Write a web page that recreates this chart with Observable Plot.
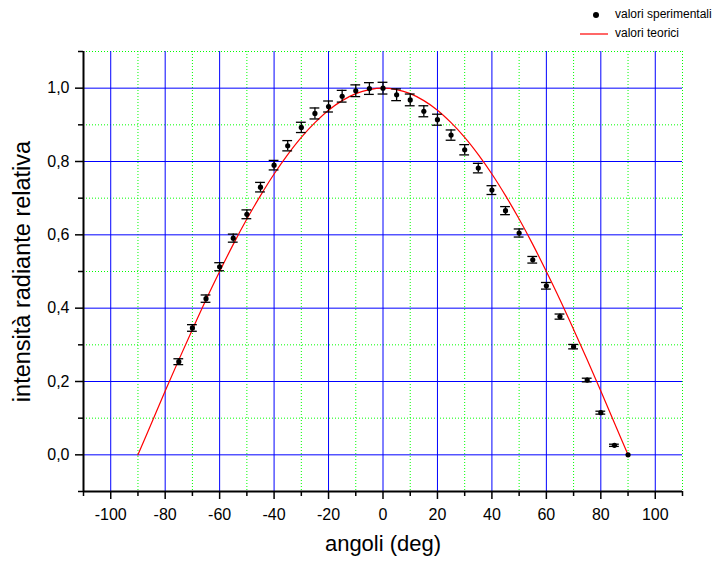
<!DOCTYPE html>
<html>
<head>
<meta charset="utf-8">
<script src="https://cdn.jsdelivr.net/npm/d3@7"></script>
<script src="https://cdn.jsdelivr.net/npm/@observablehq/plot@0.6"></script>
<style>
  html, body { margin: 0; padding: 0; background: #fff; }
  #wrap { position: relative; width: 719px; height: 561px; font-family: "Liberation Sans", Arial, sans-serif; }
  #legend { position: absolute; left: 578px; top: 5px; font-size: 12px; color: #000; line-height: 19px; }
  #legend .row { display: flex; align-items: center; height: 19px; }
  #legend svg { margin-right: 5px; }
</style>
</head>
<body>
<div id="wrap">
  <div id="legend">
    <div class="row"><svg width="32" height="10"><circle cx="18" cy="5" r="3" fill="#000"/></svg><span>valori sperimentali</span></div>
    <div class="row"><svg width="32" height="10"><line x1="2" y1="5" x2="30" y2="5" stroke="#ff0000" stroke-width="1.2"/></svg><span>valori teorici</span></div>
  </div>
</div>
<script>
// Experimental data (angles in degrees, relative intensity, error)
const angoli = [-75, -70, -65, -60, -55, -50, -45, -40, -35, -30, -25, -20, -15, -10, -5, 0,
                5, 10, 15, 20, 25, 30, 35, 40, 45, 50, 55, 60, 65, 70, 75, 80, 85, 90];
const intensita = [0.254, 0.346, 0.426, 0.513, 0.591, 0.656, 0.730, 0.790, 0.843, 0.893, 0.931, 0.950, 0.978, 0.993, 0.999, 1.000,
                   0.982, 0.968, 0.937, 0.914, 0.872, 0.832, 0.782, 0.722, 0.666, 0.605, 0.532, 0.461, 0.377, 0.295, 0.204, 0.115, 0.026, 0.000];
const errori = [0.008, 0.009, 0.010, 0.011, 0.011, 0.012, 0.013, 0.013, 0.014, 0.014, 0.015, 0.015, 0.016, 0.016, 0.016, 0.016,
                0.016, 0.016, 0.015, 0.015, 0.014, 0.014, 0.013, 0.012, 0.011, 0.011, 0.009, 0.009, 0.007, 0.006, 0.005, 0.004, 0.003, 0.000];

// Theoretical curve values
const angoliTeo = [-90, -85, -80, -75, -70, -65, -60, -55, -50, -45, -40, -35, -30, -25, -20, -15, -10, -5, 0,
                   5, 10, 15, 20, 25, 30, 35, 40, 45, 50, 55, 60, 65, 70, 75, 80, 85, 90];
const valoriTeo = [0.000, 0.087, 0.174, 0.259, 0.342, 0.423, 0.500, 0.574, 0.643, 0.707, 0.766, 0.819, 0.866, 0.906, 0.940, 0.966, 0.985, 0.996, 1.000,
                   0.996, 0.985, 0.966, 0.940, 0.906, 0.866, 0.819, 0.766, 0.707, 0.643, 0.574, 0.500, 0.423, 0.342, 0.259, 0.174, 0.087, 0.000];

// Tick values
const xMajor = [-100, -80, -60, -40, -20, 0, 20, 40, 60, 80, 100];
const xMinor = [-110, -90, -70, -50, -30, -10, 10, 30, 50, 70, 90, 110];
const yMajor = [0, 0.2, 0.4, 0.6, 0.8, 1.0];
const yMinor = [-0.1, 0.1, 0.3, 0.5, 0.7, 0.9, 1.1];

const xLabel = "angoli (deg)";
const yLabel = "intensità radiante relativa";

const sper = angoli.map((a, i) => ({x: a, y: intensita[i], e: errori[i]}));
const teo = angoliTeo.map((a, i) => ({x: a, y: valoriTeo[i]}));

const capHalf = 1.8;
const fmtY = d => d.toFixed(1).replace(".", ",");

const chart = Plot.plot({
  width: 719,
  height: 561,
  marginLeft: 83,
  marginRight: 37,
  marginTop: 51,
  marginBottom: 70,
  style: {fontFamily: "'Liberation Sans', Arial, sans-serif", background: "#fff", overflow: "visible"},
  x: {domain: [-110, 110]},
  y: {domain: [-0.1, 1.1]},
  marks: [
    // minor grid (green dotted)
    Plot.ruleX(xMinor.filter(d => d > -110), {stroke: "#00ff00", strokeWidth: 1, strokeDasharray: "1,2"}),
    Plot.ruleY(yMinor.filter(d => d > -0.1), {stroke: "#00ff00", strokeWidth: 1, strokeDasharray: "1,2"}),
    // major grid (blue)
    Plot.ruleX(xMajor, {stroke: "#0000ff", strokeWidth: 1}),
    Plot.ruleY(yMajor, {stroke: "#0000ff", strokeWidth: 1}),
    // axes
    Plot.axisX({ticks: xMajor, tickSize: 8, tickPadding: 9, tickFormat: d => d, fontSize: 16, stroke: "#000", strokeWidth: 1.5, label: null, color: "#000"}),
    Plot.axisX({ticks: xMinor, tickSize: 5, tickFormat: () => "", stroke: "#000", strokeWidth: 1.5, label: null}),
    Plot.axisY({ticks: yMajor, tickSize: 8, tickPadding: 6, tickFormat: fmtY, fontSize: 16, stroke: "#000", strokeWidth: 1.5, label: null, color: "#000"}),
    Plot.axisY({ticks: yMinor, tickSize: 5, tickFormat: () => "", stroke: "#000", strokeWidth: 1.5, label: null}),
    Plot.ruleY([-0.1], {stroke: "#000", strokeWidth: 2}),
    Plot.ruleX([-110], {stroke: "#000", strokeWidth: 2}),
    // theoretical curve
    Plot.line(teo, {x: "x", y: "y", stroke: "#ff0000", strokeWidth: 1.2, curve: "catmull-rom"}),
    // error bars
    Plot.ruleX(sper.filter(d => d.e > 0), {x: "x", y1: d => d.y - d.e, y2: d => d.y + d.e, stroke: "#000", strokeWidth: 1.3}),
    Plot.ruleY(sper.filter(d => d.e > 0), {y: d => d.y + d.e, x1: d => d.x - capHalf, x2: d => d.x + capHalf, stroke: "#000", strokeWidth: 1.3}),
    Plot.ruleY(sper.filter(d => d.e > 0), {y: d => d.y - d.e, x1: d => d.x - capHalf, x2: d => d.x + capHalf, stroke: "#000", strokeWidth: 1.3}),
    // points
    Plot.dot(sper, {x: "x", y: "y", r: 2.6, fill: "#000", stroke: "none"}),
    // axis titles
    Plot.text([xLabel], {frameAnchor: "bottom", textAnchor: "middle", dy: 59, fontSize: 22, fill: "#000"}),
    Plot.text([yLabel], {frameAnchor: "left", textAnchor: "middle", dx: -61, rotate: -90, fontSize: 23.5, fill: "#000"})
  ]
});
document.getElementById("wrap").prepend(chart);
</script>
</body>
</html>
